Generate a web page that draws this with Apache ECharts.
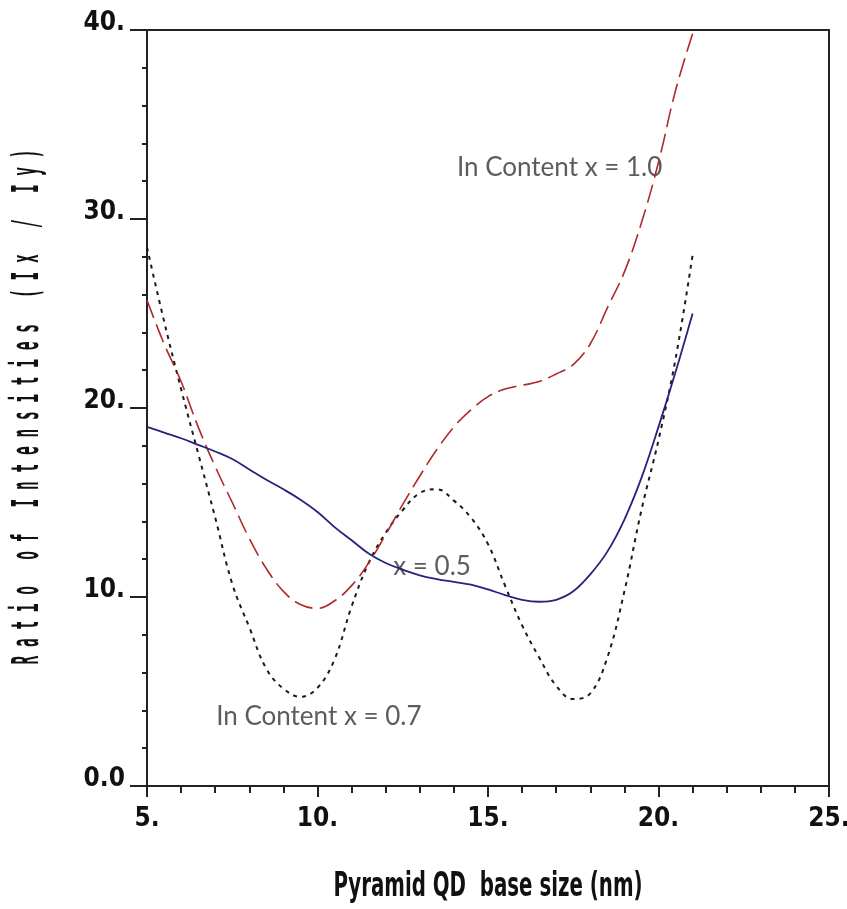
<!DOCTYPE html>
<html>
<head>
<meta charset="utf-8">
<script src="https://cdn.jsdelivr.net/npm/echarts@6/dist/echarts.min.js"></script>
<style>html,body{margin:0;padding:0;background:#fff;overflow:hidden;}#c{width:847px;height:909px;}</style>
</head>
<body>
<div id="c"></div>
<script>
// ---- data ----
var xValues = [5,5.5,6,6.5,7,7.5,8,8.5,9,9.5,10,10.5,11,11.5,12,12.5,13,13.5,14,14.5,15,15.5,16,16.5,17,17.5,18,18.5,19,19.5,20,20.5,21];
var ratioX05 = [19.0,18.7,18.4,18.05,17.7,17.3,16.75,16.2,15.7,15.15,14.5,13.7,13.0,12.3,11.8,11.45,11.15,10.95,10.8,10.65,10.4,10.1,9.85,9.75,9.85,10.3,11.2,12.4,14.1,16.3,19.0,21.9,25.0];
var ratioX07 = [28.5,24.6,21.0,17.6,14.2,10.7,8.4,6.2,5.15,4.72,5.2,6.7,9.5,11.8,13.4,14.6,15.5,15.7,15.1,14.2,12.8,10.6,8.5,6.8,5.3,4.6,4.9,6.8,10.3,14.6,18.3,22.6,28.1];
var ratioX10 = [25.7,23.4,21.4,19.0,16.9,15.0,13.1,11.5,10.3,9.6,9.4,9.8,10.6,11.8,13.3,14.9,16.4,17.8,19.0,19.9,20.6,21.0,21.2,21.4,21.8,22.3,23.4,25.3,27.2,29.8,33.0,36.8,39.8];
var xTickLabels = ['5.','10.','15.','20.','25.'];
var yTickLabels = ['0.0','10.','20.','30.','40.'];
var annotations = [
  {text:'In Content x = 1.0', x:17.1, y:32.7},
  {text:'x = 0.5', x:13.36, y:11.6},
  {text:'In Content x = 0.7', x:10.04, y:3.65}
];
var xTitle = 'Pyramid QD  base size (nm)';
var yTitle = 'Ratio of Intensities (Ix / Iy)';

// ---- chart ----
function pairs(ys){ return xValues.map(function(x,i){ return [x, ys[i]]; }); }
var tickFont = "'DejaVu Sans Condensed',sans-serif";
var chart = echarts.init(document.getElementById('c'), null, {renderer:'canvas'});
var axisLineStyle = {color:'#222', width:2};
chart.setOption({
  animation:false,
  backgroundColor:'#fff',
  grid:{left:147, right:18, top:30, bottom:123, containLabel:false, outerBoundsMode:'none'},
  xAxis:[{
    type:'value', min:5, max:25, interval:5,
    axisLine:{show:true, onZero:false, lineStyle:axisLineStyle},
    axisTick:{show:true, length:11, lineStyle:{color:'#222', width:2}},
    minorTick:{show:true, splitNumber:5, length:7, lineStyle:{color:'#222', width:2}},
    splitLine:{show:false},
    axisLabel:{margin:20, color:'#111', fontFamily:tickFont, fontWeight:'bold', fontSize:26,
      formatter:function(v){ return xTickLabels[Math.round((v-5)/5)]; }}
  },{
    type:'value', min:5, max:25, position:'top',
    axisLine:{show:true, onZero:false, lineStyle:axisLineStyle},
    axisTick:{show:false}, axisLabel:{show:false}, splitLine:{show:false}
  }],
  yAxis:[{
    type:'value', min:0, max:40, interval:10,
    axisLine:{show:true, onZero:false, lineStyle:axisLineStyle},
    axisTick:{show:true, length:17, lineStyle:{color:'#222', width:2}},
    minorTick:{show:true, splitNumber:5, length:5, lineStyle:{color:'#222', width:2}},
    splitLine:{show:false},
    axisLabel:{margin:22, color:'#111', fontFamily:tickFont, fontWeight:'bold', fontSize:26,
      verticalAlign:'bottom', lineHeight:14,
      formatter:function(v){ return yTickLabels[Math.round(v/10)]; }}
  },{
    type:'value', min:0, max:40, position:'right',
    axisLine:{show:true, onZero:false, lineStyle:axisLineStyle},
    axisTick:{show:false}, axisLabel:{show:false}, splitLine:{show:false}
  }],
  graphic:[{
    type:'text', x:28, y:407, rotation:Math.PI/2, scaleY:2.6,
    style:{text:yTitle.split('').join(' '), font:'bold 14.5px "DejaVu Sans Mono"', fill:'#111',
      align:'center', verticalAlign:'middle'}
  },{
    type:'text', x:488, y:887, scaleY:1.5,
    style:{text:xTitle, font:"bold 22px 'DejaVu Sans Condensed'", fill:'#111',
      align:'center', verticalAlign:'middle'}
  }],
  series:[{
    name:'x = 0.7', type:'line', data:pairs(ratioX07), smooth:0.4, showSymbol:false,
    lineStyle:{color:'#1a1a1a', width:2, type:[4,5]}
  },{
    name:'x = 1.0', type:'line', data:pairs(ratioX10), smooth:0.4, showSymbol:false,
    lineStyle:{color:'#b02828', width:1.6, type:[19,7]}
  },{
    name:'x = 0.5', type:'line', data:pairs(ratioX05), smooth:0.4, showSymbol:false,
    lineStyle:{color:'#25237a', width:1.8}
  },{
    name:'labels', type:'scatter', symbolSize:0, silent:true,
    data:annotations.map(function(a){ return {value:[a.x, a.y], name:a.text}; }),
    label:{show:true, position:'inside', formatter:'{b}', color:'#333',
      fontFamily:"Lato, 'Open Sans', sans-serif", fontSize:26}
  }]
});
</script>
</body>
</html>
